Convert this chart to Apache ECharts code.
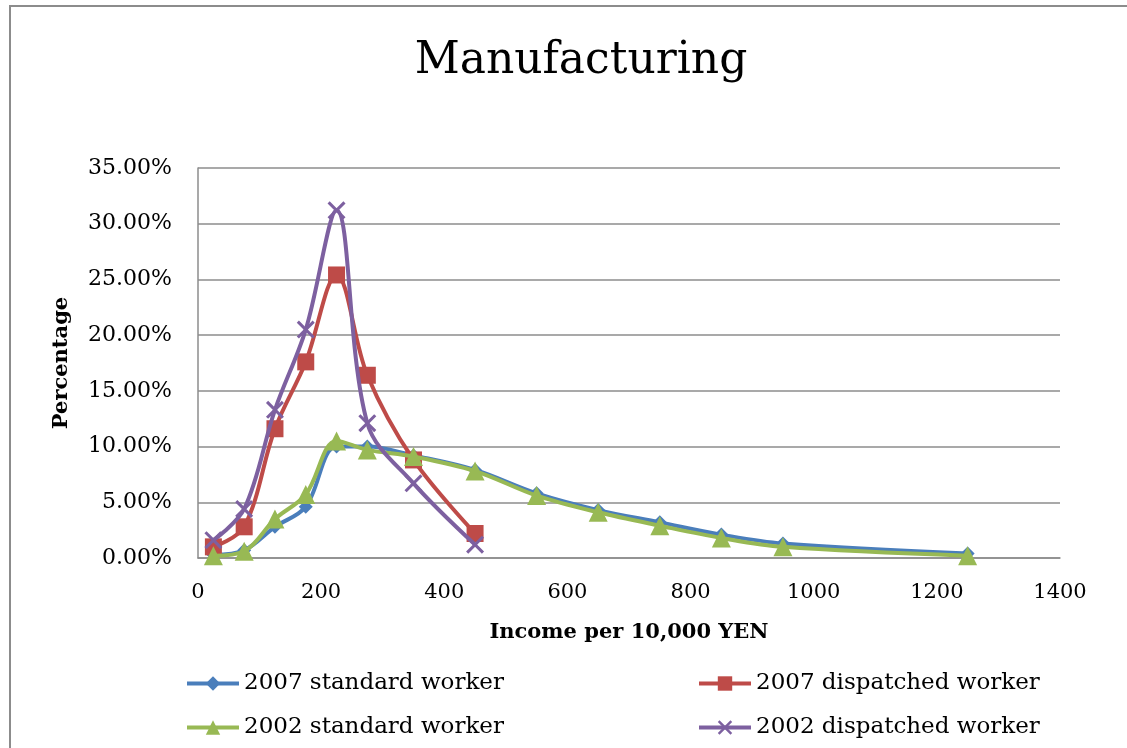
<!DOCTYPE html>
<html>
<head>
<meta charset="utf-8">
<script src="https://cdn.jsdelivr.net/npm/echarts@6/dist/echarts.min.js"></script>
<style>html,body{margin:0;padding:0;background:#fff;}#c{width:1127px;height:748px;}</style>
</head>
<body>
<div id="c"></div>
<script>
const income = [25, 75, 125, 175, 225, 275, 350, 450, 550, 650, 750, 850, 950, 1250];
const std2007 = [0.3, 0.7, 2.8, 4.6, 10.0, 10.0, 9.2, 7.9, 5.8, 4.3, 3.2, 2.1, 1.3, 0.4];
const disp2007 = [1.0, 2.8, 11.6, 17.6, 25.4, 16.4, 8.8, 2.2];
const std2002 = [0.2, 0.6, 3.5, 5.7, 10.5, 9.7, 9.1, 7.8, 5.6, 4.1, 2.9, 1.8, 1.0, 0.2];
const disp2002 = [1.6, 4.4, 13.3, 20.5, 31.2, 12.1, 6.7, 1.2];
const seriesNames = ['2007 standard worker', '2007 dispatched worker', '2002 standard worker', '2002 dispatched worker'];
const xTicks = [0, 200, 400, 600, 800, 1000, 1200, 1400];

const FONT = 'DejaVu Serif';
const pair = (vals) => vals.map((v, i) => [income[i], v]);
const crossPath = 'path://M0,1.2L1.2,0L10,8.8L8.8,10Z M8.8,0L10,1.2L1.2,10L0,8.8Z';

const chart = echarts.init(document.getElementById('c'), null, {renderer: 'canvas'});
function mkSeries(name, data, color, symbol, size, z) {
  return {
    name: name, type: 'line', data: pair(data), smooth: 0.35,
    symbol: symbol, symbolSize: size, showSymbol: true, z: z,
    lineStyle: {color: color, width: 4},
    itemStyle: {color: color},
    emphasis: {disabled: true}
  };
}
const legendBase = (name, left, top) => ({
  data: [name], left: left, top: top, itemWidth: 52, itemHeight: 18, padding: 0,
  lineStyle: {width: 4},
  textStyle: {fontFamily: FONT, fontSize: 23, color: '#000'}
});
chart.setOption({
  animation: false,
  backgroundColor: '#fff',
  title: {
    text: 'Manufacturing', left: 576, top: 35, textAlign: 'center',
    textStyle: {fontFamily: FONT, fontSize: 44, fontWeight: 'normal', color: '#000'}
  },
  graphic: [{
    type: 'rect', shape: {x: 10, y: 6, width: 1200, height: 800},
    style: {fill: 'none', stroke: '#8c8c8c', lineWidth: 2}, silent: true
  }],
  legend: [
    legendBase(seriesNames[0], 185, 672),
    legendBase(seriesNames[1], 697, 672),
    legendBase(seriesNames[2], 185, 716),
    legendBase(seriesNames[3], 697, 716)
  ],
  grid: {left: 198, top: 168, right: 67, bottom: 190},
  xAxis: {
    type: 'value', min: xTicks[0], max: xTicks[xTicks.length - 1], interval: 200,
    name: 'Income per 10,000 YEN', nameLocation: 'middle', nameGap: 64,
    nameTextStyle: {fontFamily: FONT, fontSize: 21, fontWeight: 'bold', color: '#000'},
    axisLine: {show: true, lineStyle: {color: '#8c8c8c', width: 1.5}},
    axisTick: {show: false},
    axisLabel: {fontFamily: FONT, fontSize: 21, color: '#000', margin: 24,
      formatter: v => String(v)},
    splitLine: {show: false}
  },
  yAxis: {
    type: 'value', min: 0, max: 35, interval: 5,
    name: 'Percentage', nameLocation: 'middle', nameGap: 126,
    nameTextStyle: {fontFamily: FONT, fontSize: 21, fontWeight: 'bold', color: '#000'},
    axisLine: {show: true, lineStyle: {color: '#8c8c8c', width: 1.5}},
    axisTick: {show: false},
    axisLabel: {fontFamily: FONT, fontSize: 22, color: '#000', margin: 26,
      formatter: v => v.toFixed(2) + '%'},
    splitLine: {show: true, lineStyle: {color: '#8c8c8c', width: 1.5}}
  },
  series: [
    mkSeries(seriesNames[0], std2007, '#4A7EBB', 'diamond', 14, 2),
    mkSeries(seriesNames[1], disp2007, '#BE4B48', 'rect', 17, 3),
    mkSeries(seriesNames[2], std2002, '#98B954', 'triangle', 19, 4),
    mkSeries(seriesNames[3], disp2002, '#7D60A0', crossPath, 18, 5)
  ]
});
</script>
</body>
</html>
